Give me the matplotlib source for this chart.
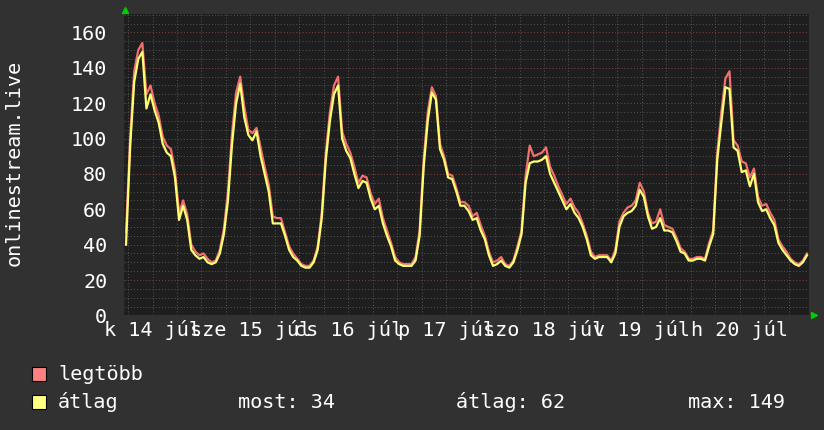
import numpy as np
import matplotlib
matplotlib.use('Agg')
import matplotlib.pyplot as plt
from matplotlib.patches import Rectangle

# hourly values, starting 07-14 05:00, one week
atlag = [40, 95, 132, 145, 149, 117, 125, 116, 109, 97, 92, 90, 78, 54, 62, 54, 37, 34, 32, 33, 30, 29, 30, 35,
         46, 65, 97, 120, 131, 112, 102, 99, 104, 90, 80, 70, 52, 52, 52, 45, 37, 33, 31, 28, 27, 27, 30, 37,
         55, 88, 110, 125, 130, 100, 93, 89, 80, 72, 76, 75, 66, 60, 62, 52, 45, 39, 31, 29, 28, 28, 28, 31,
         45, 84, 110, 126, 122, 94, 88, 78, 77, 70, 62, 62, 59, 54, 55, 48, 43, 34, 28, 29, 31, 28, 27, 30,
         37, 46, 75, 86, 87, 87, 88, 90, 80, 75, 70, 65, 60, 63, 58, 55, 50, 43, 34, 32, 33, 33, 33, 30,
         35, 50, 56, 58, 59, 62, 71, 67, 56, 49, 50, 55, 48, 48, 47, 42, 36, 35, 31, 31, 32, 32, 31, 39,
         46, 88, 109, 129, 128, 95, 93, 81, 82, 73, 80, 64, 59, 60, 55, 51, 41, 37, 34, 31, 29, 28, 30, 34]
legtobb = [47, 100, 138, 150, 154, 125, 130, 120, 113, 101, 96, 94, 82, 58, 65, 57, 40, 36, 34, 35, 32, 30, 31, 37,
           49, 70, 103, 126, 135, 118, 105, 103, 106, 95, 84, 74, 56, 55, 55, 47, 39, 35, 32, 29, 28, 28, 31, 39,
           58, 92, 115, 130, 135, 104, 97, 92, 84, 75, 79, 78, 69, 63, 66, 55, 48, 41, 33, 30, 29, 29, 29, 33,
           48, 88, 115, 129, 124, 97, 90, 80, 79, 72, 64, 64, 62, 56, 58, 51, 45, 36, 30, 31, 33, 29, 28, 31,
           39, 48, 79, 96, 90, 91, 92, 95, 84, 79, 73, 68, 63, 66, 61, 58, 52, 45, 36, 33, 34, 34, 34, 31,
           37, 53, 58, 61, 62, 65, 75, 70, 58, 52, 53, 60, 51, 50, 49, 44, 38, 36, 32, 32, 33, 33, 32, 41,
           48, 92, 115, 134, 138, 99, 96, 87, 86, 78, 83, 67, 62, 63, 58, 54, 43, 39, 36, 32, 30, 29, 31, 35]

napok = ['k 14 júl', 'sze 15 júl', 'cs 16 júl', 'p 17 júl', 'szo 18 júl', 'v 19 júl', 'h 20 júl']
ejfelek = [19, 43, 67, 91, 115, 139, 163]
delek = [7, 31, 55, 79, 103, 127, 151]

BG = '#313131'
PLOTBG = '#1e1e1e'
mono = 'DejaVu Sans Mono'
fs = 14.5

fig = plt.figure(figsize=(8.24, 4.30), dpi=100, facecolor=BG)
ax = fig.add_axes([124/824, 1 - 315.4/430, 685/824, 301.4/430])
ax.set_facecolor(PLOTBG)

x = np.arange(len(atlag)) + 0.5
ax.plot(x, legtobb, color='#f07070', lw=1.6)
ax.plot(x, atlag, color='#ffff70', lw=1.6)

ax.set_xlim(0, 168)
ax.set_ylim(0, 170.4)

ax.set_xticks(ejfelek)
ax.set_xticks(np.arange(1, 168, 6), minor=True)
ax.set_yticks(np.arange(0, 161, 20))
ax.set_yticks(np.arange(0, 171, 5), minor=True)
ax.grid(which='minor', color='#505050', linestyle=(0, (1, 2)), lw=0.75)
ax.grid(which='major', color='#7a4040', linestyle=(0, (1, 2)), lw=0.75)
ax.set_axisbelow(True)
ax.tick_params(which='both', length=0)
ax.tick_params(axis='x', labelbottom=False)
ax.tick_params(axis='y', labelcolor='white', labelsize=fs, pad=12)
for lab in ax.get_yticklabels():
    lab.set_family(mono)
for s in ax.spines.values():
    s.set_visible(False)

for d, t in zip(delek, napok):
    ax.text(d, -8.5, t, ha='center', va='center', color='white', fontsize=fs, family=mono)

fig.text(14/824, 1 - 163/430, 'onlinestream.live', rotation=90, ha='center', va='center',
         color='white', fontsize=fs, family=mono)

# green arrows
fig.lines.append(plt.Line2D([125/824], [1 - 10/430], marker='^', color='#00cc00', ms=4.5,
                            transform=fig.transFigure))
fig.lines.append(plt.Line2D([814/824], [1 - 315/430], marker='>', color='#00cc00', ms=4.5,
                            transform=fig.transFigure))

# legend
def box(y, c):
    fig.add_artist(Rectangle((32/824, 1 - (y + 7)/430), 14/824, 14/430, transform=fig.transFigure,
                             facecolor=c, edgecolor='black', lw=0.8))

box(374, '#ff8080')
box(402, '#ffff80')
fig.text(58/824, 1 - 374/430, 'legtöbb', va='center', color='white', fontsize=fs, family=mono)
fig.text(58/824, 1 - 402/430, 'átlag', va='center', color='white', fontsize=fs, family=mono)
fig.text(238/824, 1 - 402/430, 'most: 34', va='center', color='white', fontsize=fs, family=mono)
fig.text(456/824, 1 - 402/430, 'átlag: 62', va='center', color='white', fontsize=fs, family=mono)
fig.text(688/824, 1 - 402/430, 'max: 149', va='center', color='white', fontsize=fs, family=mono)

fig.savefig('out.png', dpi=100, facecolor=BG)
